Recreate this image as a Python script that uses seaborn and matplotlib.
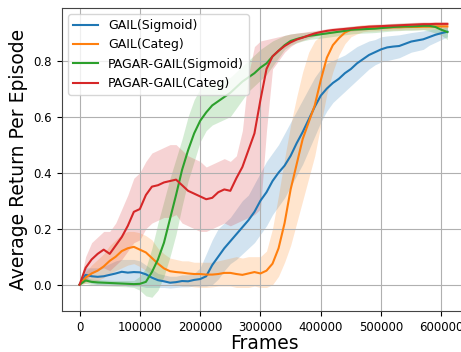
import numpy as np
import pandas as pd
import seaborn as sns
import matplotlib.pyplot as plt

frames = list(range(0, 620000, 10000))

gail_sig = [0, 0.035, 0.03, 0.028, 0.03, 0.035, 0.04, 0.046, 0.043, 0.045,
            0.044, 0.037, 0.025, 0.016, 0.012, 0.007, 0.009, 0.013, 0.012, 0.017,
            0.02, 0.03, 0.07, 0.10, 0.13, 0.155, 0.18, 0.205, 0.23, 0.26,
            0.30, 0.33, 0.37, 0.40, 0.425, 0.46, 0.505, 0.545, 0.59, 0.635,
            0.675, 0.70, 0.72, 0.735, 0.755, 0.77, 0.79, 0.805, 0.82, 0.83,
            0.84, 0.847, 0.85, 0.852, 0.86, 0.868, 0.872, 0.876, 0.884, 0.892,
            0.898, 0.903]
gail_sig_lo = [0, 0.015, 0.005, 0.0, 0.0, 0.0, 0.0, 0.0, -0.005, -0.005,
               -0.005, -0.01, -0.01, -0.01, -0.01, -0.012, -0.01, -0.008, -0.008, -0.005,
               -0.005, -0.005, 0.0, 0.02, 0.05, 0.075, 0.09, 0.11, 0.13, 0.15,
               0.18, 0.21, 0.25, 0.28, 0.31, 0.35, 0.39, 0.43, 0.48, 0.53,
               0.58, 0.62, 0.65, 0.67, 0.69, 0.71, 0.73, 0.75, 0.77, 0.785,
               0.795, 0.80, 0.805, 0.81, 0.82, 0.83, 0.835, 0.84, 0.855, 0.865,
               0.875, 0.885]
gail_sig_hi = [0, 0.06, 0.06, 0.06, 0.065, 0.075, 0.085, 0.09, 0.09, 0.09,
               0.085, 0.07, 0.055, 0.04, 0.035, 0.03, 0.03, 0.035, 0.035, 0.04,
               0.06, 0.11, 0.16, 0.20, 0.22, 0.24, 0.27, 0.30, 0.32, 0.36,
               0.40, 0.44, 0.47, 0.50, 0.54, 0.58, 0.62, 0.66, 0.70, 0.74,
               0.77, 0.79, 0.80, 0.81, 0.82, 0.835, 0.85, 0.86, 0.87, 0.875,
               0.885, 0.888, 0.89, 0.892, 0.896, 0.90, 0.903, 0.906, 0.91, 0.913,
               0.915, 0.92]

gail_cat = [0, 0.025, 0.04, 0.05, 0.065, 0.085, 0.10, 0.12, 0.13, 0.135,
            0.125, 0.115, 0.095, 0.075, 0.058, 0.048, 0.045, 0.043, 0.04, 0.038,
            0.038, 0.036, 0.036, 0.038, 0.042, 0.042, 0.038, 0.035, 0.04, 0.045,
            0.04, 0.05, 0.075, 0.13, 0.22, 0.34, 0.43, 0.52, 0.58, 0.64,
            0.73, 0.81, 0.855, 0.88, 0.90, 0.91, 0.915, 0.918, 0.918, 0.917,
            0.918, 0.918, 0.919, 0.919, 0.92, 0.92, 0.92, 0.921, 0.921, 0.922,
            0.922, 0.922]
gail_cat_lo = [0, 0.005, 0.01, 0.015, 0.025, 0.04, 0.05, 0.06, 0.07, 0.075,
               0.065, 0.05, 0.035, 0.02, 0.01, 0.005, 0.0, -0.005, -0.005, -0.008,
               -0.01, -0.01, -0.008, -0.005, -0.005, -0.005, -0.01, -0.01, -0.01, -0.005,
               -0.01, -0.01, 0.0, 0.03, 0.08, 0.14, 0.22, 0.30, 0.38, 0.46,
               0.57, 0.68, 0.76, 0.82, 0.86, 0.885, 0.895, 0.903, 0.905, 0.906,
               0.907, 0.908, 0.909, 0.909, 0.91, 0.91, 0.91, 0.911, 0.911, 0.912,
               0.912, 0.912]
gail_cat_hi = [0, 0.045, 0.07, 0.09, 0.11, 0.14, 0.16, 0.18, 0.19, 0.19,
               0.185, 0.175, 0.16, 0.13, 0.11, 0.095, 0.09, 0.085, 0.085, 0.08,
               0.08, 0.08, 0.08, 0.085, 0.09, 0.095, 0.10, 0.095, 0.10, 0.10,
               0.10, 0.12, 0.20, 0.32, 0.45, 0.57, 0.67, 0.76, 0.83, 0.87,
               0.89, 0.90, 0.905, 0.91, 0.915, 0.92, 0.925, 0.927, 0.928, 0.928,
               0.929, 0.929, 0.929, 0.93, 0.93, 0.93, 0.93, 0.931, 0.931, 0.932,
               0.932, 0.932]

pagar_sig = [0, 0.015, 0.01, 0.008, 0.007, 0.006, 0.005, 0.004, 0.003, 0.002,
             0.003, 0.01, 0.045, 0.09, 0.15, 0.235, 0.32, 0.41, 0.48, 0.54,
             0.585, 0.615, 0.64, 0.655, 0.67, 0.685, 0.705, 0.725, 0.74, 0.755,
             0.775, 0.79, 0.815, 0.835, 0.855, 0.87, 0.877, 0.883, 0.888, 0.891,
             0.894, 0.897, 0.90, 0.903, 0.906, 0.91, 0.911, 0.912, 0.913, 0.914,
             0.916, 0.918, 0.92, 0.921, 0.922, 0.922, 0.923, 0.924, 0.924, 0.92,
             0.91, 0.902]
pagar_sig_lo = [0, 0.005, 0.0, -0.002, -0.004, -0.005, -0.006, -0.007, -0.008, -0.01,
                -0.02, -0.04, -0.045, -0.02, 0.03, 0.10, 0.18, 0.28, 0.37, 0.44,
                0.51, 0.55, 0.57, 0.58, 0.59, 0.60, 0.63, 0.66, 0.69, 0.71,
                0.73, 0.75, 0.78, 0.81, 0.84, 0.855, 0.863, 0.87, 0.875, 0.878,
                0.88, 0.883, 0.886, 0.889, 0.892, 0.895, 0.897, 0.898, 0.899, 0.9,
                0.902, 0.904, 0.906, 0.907, 0.908, 0.908, 0.909, 0.91, 0.905, 0.898,
                0.89, 0.875]
pagar_sig_hi = [0, 0.025, 0.02, 0.018, 0.017, 0.016, 0.015, 0.015, 0.015, 0.015,
                0.03, 0.06, 0.13, 0.22, 0.30, 0.38, 0.45, 0.52, 0.60, 0.66,
                0.70, 0.71, 0.72, 0.72, 0.73, 0.74, 0.76, 0.78, 0.80, 0.82,
                0.84, 0.855, 0.87, 0.88, 0.89, 0.895, 0.898, 0.90, 0.902, 0.904,
                0.907, 0.91, 0.913, 0.916, 0.919, 0.922, 0.924, 0.925, 0.926, 0.927,
                0.928, 0.93, 0.932, 0.933, 0.934, 0.934, 0.935, 0.936, 0.936, 0.935,
                0.93, 0.925]

pagar_cat = [0, 0.06, 0.09, 0.11, 0.125, 0.11, 0.14, 0.17, 0.21, 0.26,
             0.27, 0.32, 0.35, 0.355, 0.365, 0.37, 0.375, 0.355, 0.335, 0.325,
             0.315, 0.305, 0.31, 0.33, 0.34, 0.335, 0.38, 0.42, 0.48, 0.54,
             0.66, 0.77, 0.815, 0.835, 0.852, 0.865, 0.875, 0.882, 0.89, 0.897,
             0.902, 0.906, 0.909, 0.911, 0.913, 0.915, 0.917, 0.919, 0.921, 0.922,
             0.923, 0.924, 0.925, 0.926, 0.927, 0.928, 0.929, 0.93, 0.93, 0.931,
             0.931, 0.931]
pagar_cat_lo = [0, 0.01, 0.04, 0.05, 0.06, 0.05, 0.07, 0.09, 0.12, 0.15,
                0.16, 0.20, 0.22, 0.23, 0.24, 0.24, 0.25, 0.22, 0.21, 0.20,
                0.19, 0.19, 0.20, 0.21, 0.22, 0.21, 0.22, 0.23, 0.24, 0.25,
                0.27, 0.55, 0.77, 0.80, 0.83, 0.85, 0.865, 0.872, 0.88, 0.887,
                0.892, 0.896, 0.899, 0.901, 0.903, 0.905, 0.907, 0.909, 0.911, 0.912,
                0.913, 0.914, 0.915, 0.916, 0.917, 0.918, 0.919, 0.92, 0.92, 0.921,
                0.921, 0.921]
pagar_cat_hi = [0, 0.10, 0.15, 0.17, 0.19, 0.19, 0.22, 0.27, 0.32, 0.38,
                0.40, 0.44, 0.47, 0.48, 0.49, 0.50, 0.50, 0.48, 0.46, 0.45,
                0.44, 0.42, 0.43, 0.44, 0.45, 0.44, 0.46, 0.55, 0.75, 0.85,
                0.87, 0.875, 0.88, 0.885, 0.89, 0.895, 0.898, 0.901, 0.904, 0.907,
                0.91, 0.914, 0.917, 0.919, 0.921, 0.923, 0.925, 0.927, 0.929, 0.93,
                0.931, 0.932, 0.933, 0.934, 0.935, 0.936, 0.937, 0.938, 0.938, 0.939,
                0.939, 0.939]

names = ['GAIL(Sigmoid)', 'GAIL(Categ)', 'PAGAR-GAIL(Sigmoid)', 'PAGAR-GAIL(Categ)']
means = [gail_sig, gail_cat, pagar_sig, pagar_cat]
lows = [gail_sig_lo, gail_cat_lo, pagar_sig_lo, pagar_cat_lo]
highs = [gail_sig_hi, gail_cat_hi, pagar_sig_hi, pagar_cat_hi]

df = pd.concat([pd.DataFrame({'Frames': frames, 'ret': m, 'method': n})
                for n, m in zip(names, means)], ignore_index=True)

colors = sns.color_palette('tab10')[:4]

fig = plt.figure(figsize=(4.61, 3.52), dpi=100)
ax = fig.add_axes([0.134, 0.1165, 0.881, 0.861])

for n, lo, hi, c in zip(names, lows, highs, colors):
    ax.fill_between(frames, lo, hi, color=c, alpha=0.2, linewidth=0)

sns.lineplot(data=df, x='Frames', y='ret', hue='method', palette=colors,
             linewidth=1.5, ax=ax)

ax.set_xlim(-29500, 644000)
ax.set_ylim(-0.094, 0.988)
ax.set_xticks([0, 100000, 200000, 300000, 400000, 500000, 600000])
ax.set_yticks([0.0, 0.2, 0.4, 0.6, 0.8])
ax.tick_params(labelsize=8.5)
ax.grid(True, color='#b0b0b0', linewidth=0.8)
for s in ax.spines.values():
    s.set_color('#444444')
ax.set_xlabel('Frames', fontsize=13.5, labelpad=0)
ax.set_ylabel('Average Return Per Episode', fontsize=13.5)
ax.legend(loc='upper left', fontsize=9, title=None)

fig.savefig('out.png', dpi=100)
